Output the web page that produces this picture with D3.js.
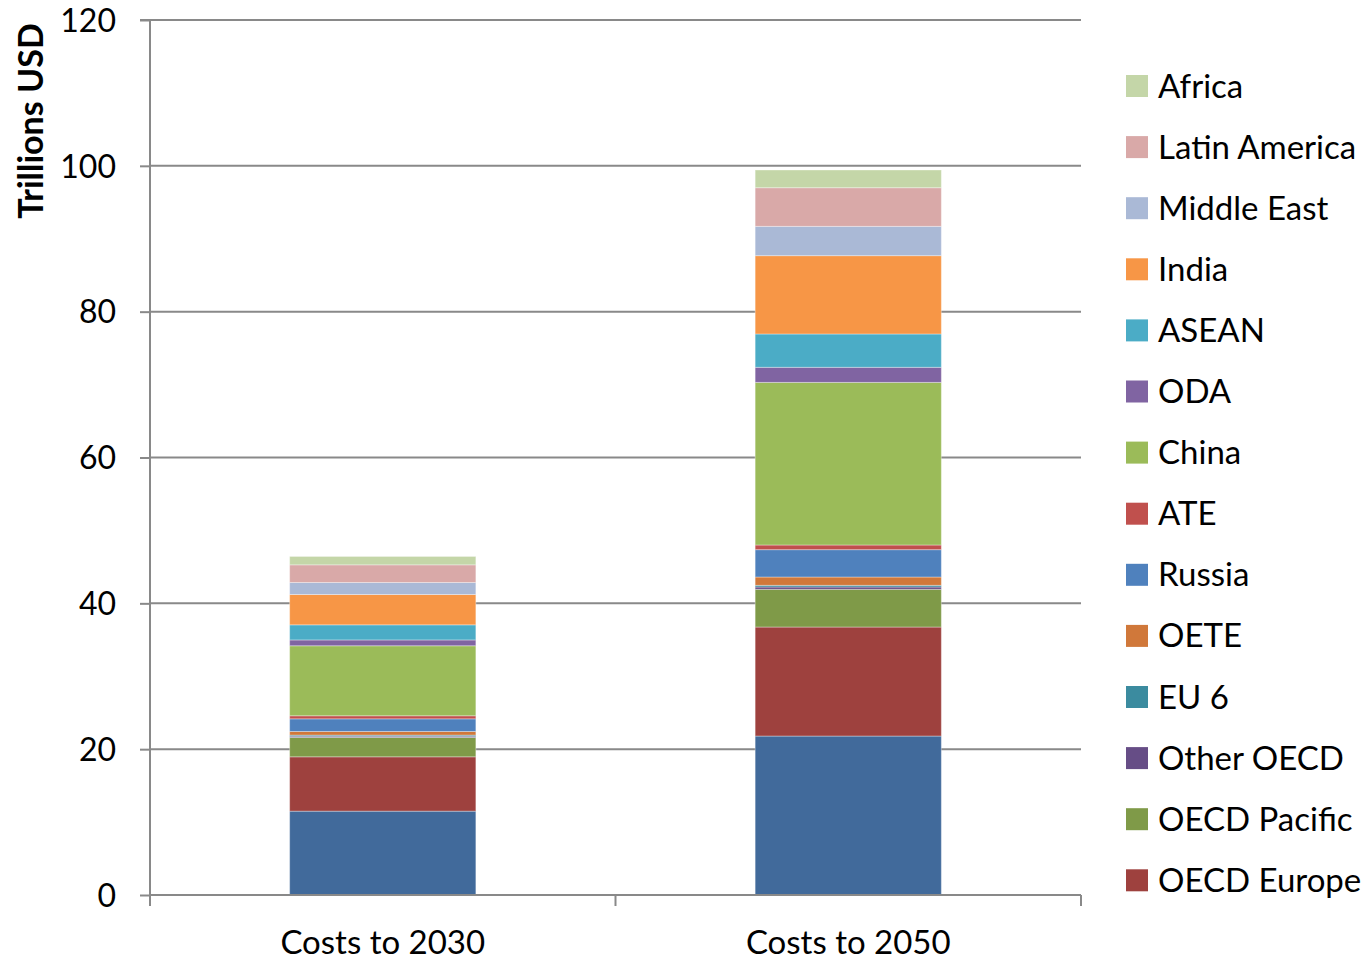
<!DOCTYPE html>
<html><head><meta charset="utf-8">
<script src="https://cdn.jsdelivr.net/npm/d3@7"></script>
<style>body{margin:0;background:#fff;} svg{display:block;} text{font-family:Lato,"Open Sans",sans-serif;}</style>
</head><body>
<svg id="c" width="1367" height="962"></svg>
<script>
const categories = ["Costs to 2030", "Costs to 2050"];
const seriesNames = ["United States","OECD Europe","OECD Pacific","Other OECD","EU 6","OETE","Russia","ATE","China","ODA","ASEAN","India","Middle East","Latin America","Africa"];
const seriesColors = ["#416A9B","#9E413E","#7F9A48","#664D86","#3B8B9F","#D0783A","#4F81BD","#C0504D","#9BBB59","#8064A2","#4BACC6","#F79646","#AAB9D6","#D9A9A8","#C4D6A8"];
const values2030 = [11.5, 7.45, 2.66, 0.17, 0.15, 0.5, 1.73, 0.42, 9.6, 0.8, 2.07, 4.16, 1.65, 2.42, 1.15];
const values2050 = [21.8, 14.95, 5.17, 0.32, 0.23, 1.14, 3.75, 0.64, 22.3, 2.07, 4.57, 10.74, 4.02, 5.3, 2.43];
const legendNames = ["Africa","Latin America","Middle East","India","ASEAN","ODA","China","ATE","Russia","OETE","EU 6","Other OECD","OECD Pacific","OECD Europe"];
const yTicks = [0,20,40,60,80,100,120];

const svg = d3.select("#c");
const L = 150, R = 1081, T = 20, B = 895;
const x = d3.scaleBand().domain(categories).range([L, R]).paddingInner(0.6).paddingOuter(0.3);
const y = d3.scaleLinear().domain([0,120]).range([B, T]);

// gridlines
svg.append("g").selectAll("line").data(yTicks.filter(d=>d>0)).join("line")
  .attr("x1", L).attr("x2", R).attr("y1", d=>y(d)).attr("y2", d=>y(d))
  .attr("stroke", "#898989").attr("stroke-width", 2);

// data table
const table = categories.map((c,i)=>{
  const o = {cat:c};
  seriesNames.forEach((s,j)=>{ o[s] = (i===0?values2030:values2050)[j]; });
  return o;
});
const stack = d3.stack().keys(seriesNames)(table);
const color = d3.scaleOrdinal().domain(seriesNames).range(seriesColors);

svg.append("g").selectAll("g").data(stack).join("g")
  .attr("fill", d=>color(d.key))
  .selectAll("rect").data(d=>d).join("rect")
  .attr("x", d=>x(d.data.cat)).attr("width", x.bandwidth())
  .attr("y", d=>y(d[1])).attr("height", d=>y(d[0])-y(d[1]))
  .attr("stroke", "rgba(255,255,255,0.35)").attr("stroke-width", 1);

// left axis
const ya = svg.append("g").attr("transform", `translate(${L},0)`)
  .call(d3.axisLeft(y).tickValues(yTicks).tickSize(10).tickPadding(24));
ya.select(".domain").attr("stroke", "#898989").attr("stroke-width", 2).attr("d", `M-10,${T}H0V${B}`);
ya.selectAll(".tick line").attr("stroke", "#898989").attr("stroke-width", 2);
ya.selectAll(".tick text").attr("font-size", 32).attr("fill", "#000").attr("font-family", "Lato").attr("dy","0.35em");

// bottom axis
const xa = svg.append("g").attr("transform", `translate(0,${B})`);
xa.append("line").attr("x1", L).attr("x2", R).attr("y1",0).attr("y2",0).attr("stroke","#898989").attr("stroke-width",2);
xa.selectAll("line.t").data([L, (L+R)/2, R]).join("line").attr("class","t")
  .attr("x1", d=>d).attr("x2", d=>d).attr("y1", 0).attr("y2", 11).attr("stroke","#898989").attr("stroke-width",2);
xa.selectAll("text").data(categories).join("text")
  .attr("x", d=>x(d)+x.bandwidth()/2).attr("y", 59).attr("text-anchor","middle")
  .attr("font-size", 33).attr("fill","#000").text(d=>d);

// y title
svg.append("text").attr("transform", `translate(43,${T+101}) rotate(-90)`)
  .attr("text-anchor","middle").attr("font-size", 34).attr("font-weight","bold").attr("fill","#000")
  .text("Trillions USD");

// legend
const lg = svg.append("g").selectAll("g").data(legendNames).join("g")
  .attr("transform", (d,i)=>`translate(1126,${86 + i*61.1})`);
lg.append("rect").attr("x",0).attr("y",-11).attr("width",22).attr("height",22).attr("fill", d=>color(d));
lg.append("text").attr("x", 32).attr("y", 0).attr("dy","0.35em").attr("font-size", 33).attr("fill","#000").text(d=>d);
</script>
</body></html>
